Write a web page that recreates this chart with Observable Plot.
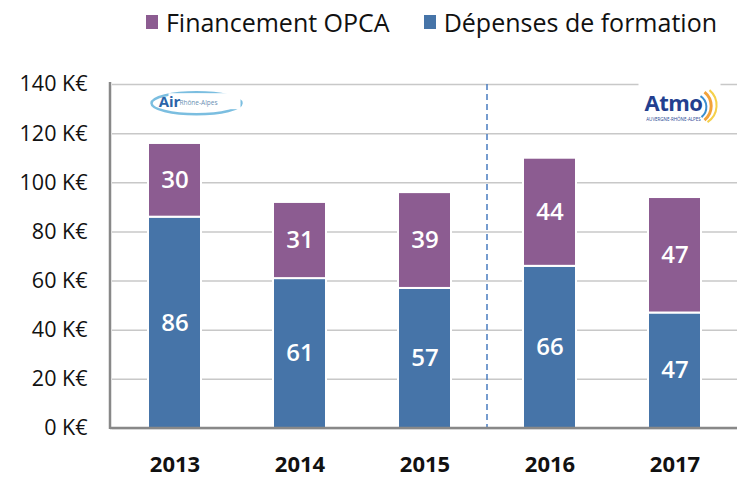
<!DOCTYPE html>
<html><head><meta charset="utf-8">
<script src="https://cdn.jsdelivr.net/npm/d3@7"></script>
<script src="https://cdn.jsdelivr.net/npm/@observablehq/plot@0.6"></script>
<style>
body{margin:0;background:#fff;font-family:"Open Sans","Noto Sans",sans-serif;}
#wrap{position:relative;width:737px;height:477px;}
#legend{position:absolute;top:5px;left:0;width:737px;display:flex;justify-content:flex-end;padding-right:20px;box-sizing:border-box;font-size:25px;color:#111;gap:34px;z-index:2;}
#legend span{display:flex;align-items:center;}
#legend i{display:inline-block;width:12px;height:14px;margin-right:8px;}
#chart{position:absolute;top:0;left:0;}
</style></head><body>
<div id="wrap">
<div id="chart"></div>
<div id="legend"></div>
</div>
<script>
const years = ["2013","2014","2015","2016","2017"];
const depenses = [86,61,57,66,47];
const opca = [30,31,39,44,47];
const seriesNames = ["Dépenses de formation","Financement OPCA"];
const colors = ["#4674A8","#8C5C91"];
const yTicks = [0,20,40,60,80,100,120,140];

const data = [];
years.forEach((y,i)=>{
  data.push({year:y, series:seriesNames[0], value:depenses[i]});
  data.push({year:y, series:seriesNames[1], value:opca[i]});
});

const leg = document.getElementById("legend");
[[seriesNames[1],colors[1]],[seriesNames[0],colors[0]]].forEach(([n,c])=>{
  const s=document.createElement("span");
  s.innerHTML=`<i style="background:${c}"></i>${n}`;
  leg.appendChild(s);
});

const svgNS="http://www.w3.org/2000/svg";
function el(tag, attrs, text){const e=document.createElementNS(svgNS,tag);for(const k in attrs)e.setAttribute(k,attrs[k]);if(text!=null)e.textContent=text;return e;}

const divider = (index, scales) => {
  const x = scales.x, y = scales.y;
  const cx = (x("2015") + x("2016") + x.bandwidth())/2;
  const g = el("g",{});
  g.appendChild(el("line",{x1:cx,x2:cx,y1:y(140),y2:y(0),stroke:"#4a7cc0","stroke-width":1.5,"stroke-dasharray":"6,4"}));
  return g;
};

const axisLines = (index, scales, values, dims) => {
  const y = scales.y;
  const g = el("g",{});
  const l = dims.marginLeft - 2, r = dims.width - dims.marginRight;
  g.appendChild(el("line",{x1:l,x2:l,y1:y(140)-2,y2:y(0)+1,stroke:"#888","stroke-width":2.5}));
  g.appendChild(el("line",{x1:l,x2:r,y1:y(0),y2:y(0),stroke:"#888","stroke-width":2.5}));
  return g;
};

const logos = (index, scales) => {
  const x = scales.x, y = scales.y, bw = x.bandwidth();
  const g = el("g",{});
  const ax = x("2013") + bw/2, ay = y(133);
  g.appendChild(el("ellipse",{cx:ax+22,cy:ay+2,rx:45,ry:11,fill:"none",stroke:"#5aaed8","stroke-width":2.5,opacity:0.8}));
  g.appendChild(el("rect",{x:ax-6,y:ay-8,width:72,height:16,fill:"#fff"}));
  g.appendChild(el("text",{x:ax-5,y:ay+6,"font-size":15,"font-weight":"bold",fill:"#2a63a8","font-family":"Open Sans, sans-serif"},"Air"));
  g.appendChild(el("text",{x:ax+24,y:ay+4,"font-size":6.5,fill:"#6a8fb3","font-family":"Open Sans, sans-serif"},"Rhône-Alpes"));
  const bx = x("2017") + bw/2, by = y(131);
  g.appendChild(el("rect",{x:bx-36,y:by-24,width:82,height:46,fill:"#fff"}));
  g.appendChild(el("path",{d:`M ${bx+30} ${by-14} A 18 18 0 0 1 ${bx+30} ${by+14}`,fill:"none",stroke:"#f2a23a","stroke-width":3}));
  g.appendChild(el("path",{d:`M ${bx+35} ${by-16} A 20 20 0 0 1 ${bx+33} ${by+16}`,fill:"none",stroke:"#f5d04a","stroke-width":2}));
  g.appendChild(el("path",{d:`M ${bx+26} ${by-10} A 13 13 0 0 1 ${bx+27} ${by+11}`,fill:"none",stroke:"#3a8fd0","stroke-width":2}));
  g.appendChild(el("text",{x:bx-1,y:by+5,"text-anchor":"middle","font-size":22,"font-weight":"bold",fill:"#233f8f","font-family":"Open Sans, sans-serif","letter-spacing":"-0.5"},"Atmo"));
  g.appendChild(el("text",{x:bx-1,y:by+15,"text-anchor":"middle","font-size":4.5,fill:"#233f8f","font-family":"Open Sans, sans-serif"},"AUVERGNE-RHÔNE-ALPES"));
  return g;
};

const chart = Plot.plot({
  width:737, height:477,
  marginTop:84, marginBottom:49, marginLeft:112, marginRight:0,
  style:{fontFamily:'"Open Sans","Noto Sans",sans-serif', background:"#fff"},
  x:{domain:years, paddingInner:0.576, paddingOuter:0.288, label:null},
  y:{domain:[0,140], label:null},
  color:{domain:seriesNames, range:colors},
  marks:[
    Plot.gridY(yTicks,{stroke:"#c8c8c8",strokeOpacity:1,strokeWidth:1.5}),
    Plot.barY(data, Plot.stackY({x:"year", y:"value", z:"series", fill:"series", stroke:"#fff", strokeWidth:2, order:seriesNames})),
    Plot.text(data, Plot.stackY({x:"year", y:"value", z:"series", text:"value", fill:"#fff", fontSize:24, fontWeight:600, order:seriesNames})),
    divider,
    logos,
    axisLines,
    Plot.axisY(yTicks,{tickSize:0, tickPadding:25, fontSize:21.5, fill:"#111", tickFormat:d=>d+" K€", label:null}),
    Plot.axisX({tickSize:0, tickPadding:28, fontSize:22, fontWeight:"bold", fill:"#111", label:null})
  ]
});
document.getElementById("chart").appendChild(chart);
</script>
</body></html>
